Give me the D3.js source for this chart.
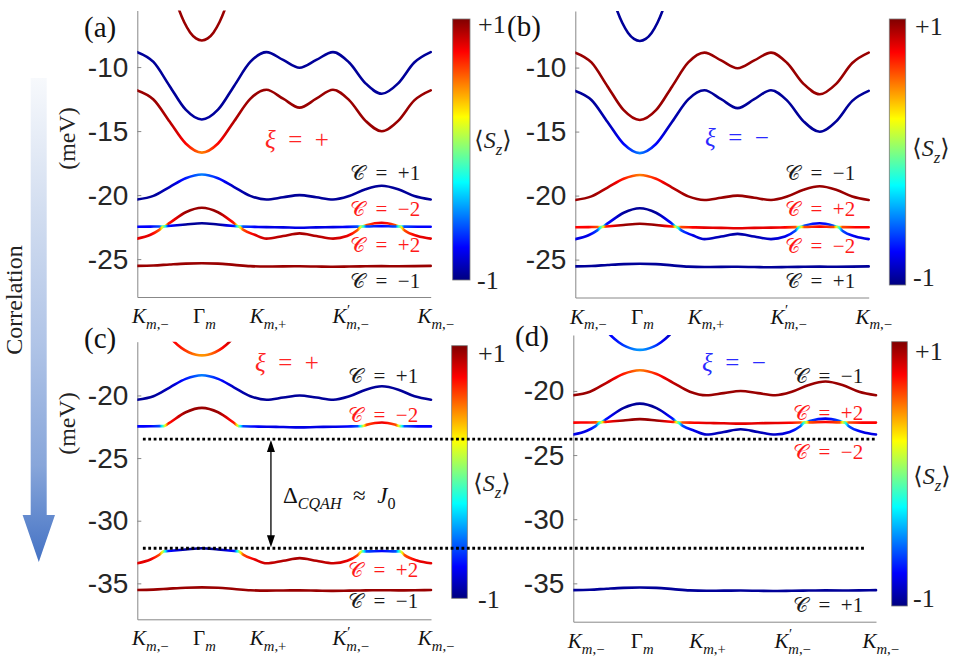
<!DOCTYPE html>
<html><head><meta charset="utf-8">
<script src="https://cdn.jsdelivr.net/npm/d3@7"></script>
<style>
html,body{margin:0;padding:0;background:#fff;}
svg{display:block;}
</style></head>
<body><svg id="fig" width="969" height="659"></svg>
<script>
// ================= DATA =================
// k-path sample positions (0 = K_{m,-}, 1 = K_{m,-} again)
const tMain = [0,0.055,0.11,0.165,0.22,0.275,0.33,0.385,0.44,0.497,0.553,0.61,0.667,0.722,0.778,0.833,0.889,0.944,1];
const tPar  = [0.12,0.14,0.16,0.18,0.20,0.22,0.24,0.26,0.28,0.30,0.32];
const tPar3 = [0.10,0.125,0.15,0.175,0.20,0.22,0.24,0.265,0.29,0.315,0.34];
const tPair = [0,0.045,0.075,0.09,0.105,0.165,0.22,0.275,0.33,0.345,0.36,0.40,0.44,0.497,0.553,0.61,0.667,0.715,0.75,0.765,0.78,0.833,0.88,0.895,0.91,0.955,1];

// energies (meV) and <S_z> for valley xi = +
const eTopPar = [-3.97,-5.39,-6.50,-7.29,-7.76,-7.92,-7.76,-7.29,-6.50,-5.39,-3.97];
const sTopPar = [0.95,0.95,0.95,0.95,0.95,0.95,0.95,0.95,0.95,0.95,0.95];

const eBand2 = [-8.83,-9.6,-11.47,-13.33,-14.1,-13.33,-11.47,-9.6,-8.83,-9.44,-10.05,-9.44,-8.83,-9.64,-11.27,-12.08,-11.27,-9.64,-8.83];
const sBand2 = [-0.95,-0.95,-0.95,-0.95,-0.93,-0.95,-0.95,-0.95,-0.95,-0.95,-0.95,-0.95,-0.95,-0.95,-0.95,-0.95,-0.95,-0.95,-0.95];

const eBand3 = [-11.82,-12.53,-14.25,-15.97,-16.68,-15.97,-14.23,-12.48,-11.77,-12.47,-13.17,-12.47,-11.77,-12.58,-14.2,-15.01,-14.2,-12.6,-11.82];
const sBand3 = [0.95,0.95,0.9,0.75,0.5,0.75,0.9,0.95,0.95,0.95,0.95,0.95,0.95,0.95,0.95,0.95,0.95,0.95,0.95];
// same band in the correlated panels (only its bottom is in view)
const eBand3Corr = [-15.04,-15.7,-16.2,-16.55,-16.75,-16.8,-16.75,-16.55,-16.2,-15.7,-15.04];
const sBand3Corr = [0.8,0.75,0.7,0.6,0.5,0.45,0.5,0.6,0.75,0.85,0.9];

const eBand4 = [-20.34,-20.06,-19.37,-18.68,-18.39,-18.68,-19.37,-20.06,-20.34,-20.17,-20.0,-20.17,-20.34,-20.07,-19.54,-19.27,-19.54,-20.07,-20.34];
const sBand4 = [-0.95,-0.95,-0.88,-0.7,-0.5,-0.7,-0.88,-0.95,-0.95,-0.95,-0.95,-0.95,-0.95,-0.95,-0.95,-0.95,-0.95,-0.95,-0.95];

const ePairUp  = [-22.47,-22.46,-22.45,-22.45,-22.25,-21.34,-20.99,-21.34,-22.2,-22.45,-22.46,-22.48,-22.5,-22.52,-22.55,-22.52,-22.5,-22.48,-22.46,-22.45,-22.35,-22.16,-22.35,-22.45,-22.46,-22.47,-22.47];
const sPairUp  = [-0.75,-0.75,-0.6,0,0.7,0.95,0.95,0.95,0.7,0,-0.6,-0.75,-0.8,-0.8,-0.8,-0.8,-0.8,-0.75,-0.6,0,0.6,0.8,0.6,0,-0.6,-0.75,-0.75];
const ePairLow = [-23.4,-23.1,-22.72,-22.45,-22.42,-22.3,-22.2,-22.3,-22.42,-22.45,-22.7,-23.1,-23.4,-23.2,-22.99,-23.2,-23.4,-23.2,-22.75,-22.45,-22.45,-22.42,-22.45,-22.45,-22.75,-23.2,-23.4];
const sPairLow = [0.8,0.8,0.6,0,-0.7,-0.95,-0.95,-0.95,-0.7,0,0.6,0.8,0.85,0.9,0.92,0.9,0.85,0.8,0.6,0,-0.6,-0.75,-0.6,0,0.6,0.8,0.8];
// lower C=+2 band after correlation shift (panel c)
const ePairLowCorr = [-33.4,-33.1,-32.72,-32.45,-32.42,-32.3,-32.2,-32.3,-32.42,-32.45,-32.7,-33.1,-33.4,-33.2,-32.99,-33.2,-33.4,-33.2,-32.75,-32.45,-32.45,-32.42,-32.45,-32.45,-32.75,-33.2,-33.4];

const eBand6 = [-25.53,-25.5,-25.42,-25.35,-25.32,-25.35,-25.45,-25.55,-25.58,-25.57,-25.56,-25.58,-25.6,-25.58,-25.56,-25.55,-25.56,-25.55,-25.53];
const eBand6Corr = [-35.53,-35.5,-35.42,-35.35,-35.32,-35.35,-35.45,-35.55,-35.58,-35.57,-35.56,-35.58,-35.6,-35.58,-35.56,-35.55,-35.56,-35.55,-35.53];
const sBand6 = [0.95,0.95,0.95,0.95,0.95,0.95,0.95,0.95,0.95,0.95,0.95,0.95,0.95,0.95,0.95,0.95,0.95,0.95,0.95];

// gap lines (meV) and valley index per panel
const gapLevels = [-23.48, -32.2];
const valleys = [1, -1, 1, -1];

// tick labels
const yTicksTop = [-25,-20,-15,-10];
const yTicksBot = [-35,-30,-25,-20];
const kMain = ["K","Γ","K","K","K"];
const kPrime = [false,false,false,true,false];
const kSub2 = [",−","",",+",",−",",−"];
const kLabelT = [-0.018,0.19,0.383,0.665,0.955];
const chernA = ["+1","−2","+2","−1"];
const chernB = ["−1","+2","−2","+1"];
const chernColors = ["#1a1a1a","#ff1a1a","#ff1a1a","#1a1a1a"];

// ================= HELPERS =================
function jet(v){
  const c = x=>Math.max(0,Math.min(1,x));
  const r=c(Math.min(4*v-1.5,-4*v+4.5)), g=c(Math.min(4*v-0.5,-4*v+3.5)), b=c(Math.min(4*v+0.5,-4*v+2.5));
  return d3.rgb(r*255,g*255,b*255).formatHex();
}
const sColor = s => jet((s+1)/2);
const SERIF = "'Liberation Serif','Times New Roman','DejaVu Serif',serif";
const SANS = "'Liberation Sans',Arial,sans-serif";
const SP = "\u2002";

function rich(textSel, parts, size){
  let cur = 0;
  parts.forEach(p=>{
    const target = p.sub ? size*0.28 : (p.sup ? -size*0.4 : 0);
    const ts = textSel.append("tspan").text(p.t)
      .attr("dy", target-cur)
      .style("font-family", p.ff || SERIF)
      .style("font-size", (p.sub||p.sup) ? (size*0.7)+"px" : size+"px")
      .style("font-style", p.it ? "italic" : "normal");
    if (p.dx) ts.attr("dx", p.dx);
    cur = target;
  });
}

const svg = d3.select("#fig");
const defs = svg.append("defs");

// colorbar gradient
const cbg = defs.append("linearGradient").attr("id","jetV").attr("x1",0).attr("y1",1).attr("x2",0).attr("y2",0);
d3.range(0,1.0001,0.025).forEach(v=>cbg.append("stop").attr("offset",v).attr("stop-color",jet(v)));

// ================= LAYOUT =================
const layout = [
  {x0:137.3,x1:430.7,yTop:10.5,yBot:297,dom:[-27.96,-5.58],ticks:yTicksTop,
   cb:[452.7,19,17.3,261],cbPlus:[478,33],cbMinus:[477,289],cbLabel:[493,148],
   letter:"(a)",letterPos:[84,37],xiPos:[265,148],cx:350,cBase:[180,216,252,288],chern:chernA,meV:[75,138.5],
   bands:[[tPar,eTopPar,sTopPar],[tMain,eBand2,sBand2],[tMain,eBand3,sBand3],[tMain,eBand4,sBand4],[tPair,ePairUp,sPairUp],[tPair,ePairLow,sPairLow],[tMain,eBand6,sBand6]]},
  {x0:575.3,x1:868.7,yTop:11,yBot:297.5,dom:[-27.96,-5.58],ticks:yTicksTop,
   cb:[889.3,19,16.4,266],cbPlus:[915,35],cbMinus:[913,286],cbLabel:[931,156],
   letter:"(b)",letterPos:[507,36],xiPos:[705,146],cx:785,cBase:[180,216,253,288],chern:chernB,meV:null,
   bands:[[tPar,eTopPar,sTopPar],[tMain,eBand2,sBand2],[tMain,eBand3,sBand3],[tMain,eBand4,sBand4],[tPair,ePairUp,sPairUp],[tPair,ePairLow,sPairLow],[tMain,eBand6,sBand6]]},
  {x0:137.3,x1:431,yTop:341.7,yBot:619.3,dom:[-37.87,-15.71],ticks:yTicksBot,
   cb:[451.7,345.7,15.6,252.6],cbPlus:[478,362],cbMinus:[478,608],cbLabel:[492,491],
   letter:"(c)",letterPos:[84,348],xiPos:[255,371],cx:348,cBase:[383,422,577,608],chern:chernA,meV:[75,423.5],
   bands:[[tPar3,eBand3Corr,sBand3Corr],[tMain,eBand4,sBand4],[tPair,ePairUp,sPairUp],[tPair,ePairLowCorr,sPairLow],[tMain,eBand6Corr,sBand6]]},
  {x0:573.3,x1:876,yTop:335,yBot:621.7,dom:[-37.99,-15.64],ticks:yTicksBot,
   cb:[891.7,341.7,15.6,264.3],cbPlus:[915,360],cbMinus:[913,607],cbLabel:[932,484],
   letter:"(d)",letterPos:[515,346],xiPos:[702,371],cx:793,cBase:[383,420,459,612],chern:chernB,meV:null,
   bands:[[tPar3,eBand3Corr,sBand3Corr],[tMain,eBand4,sBand4],[tPair,ePairUp,sPairUp],[tPair,ePairLow,sPairLow],[tMain,eBand6Corr,sBand6]]}
];

// ================= CORRELATION ARROW =================
const cg = defs.append("linearGradient").attr("id","corrGrad").attr("x1",0).attr("y1",0).attr("x2",0).attr("y2",1);
[[0,"#f7f9fc"],[0.3,"#cfdbef"],[0.55,"#b0c4e7"],[0.8,"#88a6da"],[1,"#4472c4"]].forEach(s=>cg.append("stop").attr("offset",s[0]).attr("stop-color",s[1]));
svg.append("path").attr("d","M30.7,78 H46.7 V515 H55 L38.8,562 L22.6,515 H30.7 Z").attr("fill","url(#corrGrad)");
svg.append("text").attr("transform","translate(22,300) rotate(-90)").attr("text-anchor","middle")
  .attr("font-family",SERIF).attr("font-size","24px").attr("fill","#222").text("Correlation");

// ================= PANELS =================
const scales = [];
layout.forEach((L,pi)=>{
  const xi = valleys[pi];
  const x = d3.scaleLinear().domain([0,1]).range([L.x0,L.x1]);
  const y = d3.scaleLinear().domain(L.dom).range([L.yBot,L.yTop]);
  scales.push({x,y});
  const g = svg.append("g");

  const clipId = "clip"+pi;
  defs.append("clipPath").attr("id",clipId).append("rect")
    .attr("x",L.x0).attr("y",L.yTop).attr("width",L.x1-L.x0+2).attr("height",L.yBot-L.yTop);

  // axes
  const ay = g.append("g").attr("transform",`translate(${L.x0},0)`)
    .call(d3.axisLeft(y).tickValues(L.ticks).tickSizeInner(-4).tickSizeOuter(0).tickPadding(9).tickFormat(d=>String(d)));
  ay.attr("font-family",SANS).attr("font-size",28);
  ay.select(".domain").attr("stroke","#888").attr("stroke-width",1);
  ay.selectAll(".tick line").attr("stroke","#888");
  ay.selectAll(".tick text").attr("fill","#262626");
  const ax = g.append("g").attr("transform",`translate(0,${L.yBot})`)
    .call(d3.axisBottom(x).tickValues([]).tickSizeOuter(0));
  ax.select(".domain").attr("stroke","#888").attr("stroke-width",1);

  // k labels
  kMain.forEach((m,i)=>{
    const t = g.append("text").attr("x",x(kLabelT[i])).attr("y",L.yBot+26).attr("fill","#111");
    const parts = [{t:m,it:m!=="Γ"}];
    if (kPrime[i]) parts.push({t:"′",sup:true,dx:0.5});
    parts.push({t:"m",sub:true,it:true,dx:kPrime[i]?-4:0});
    if (kSub2[i]) parts.push({t:kSub2[i],sub:true});
    rich(t,parts,21);
  });

  // bands
  const bandG = g.append("g").attr("clip-path",`url(#${clipId})`);
  const line = d3.line().x(d=>x(d.t)).y(d=>y(d.e)).curve(d3.curveMonotoneX);
  L.bands.forEach((b,bi)=>{
    const [ts,es,ss] = b;
    const pts = ts.map((t,i)=>({t,e:es[i],s:ss[i]*xi}));
    const gid = `bg${pi}_${bi}`;
    const lg = defs.append("linearGradient").attr("id",gid).attr("gradientUnits","userSpaceOnUse")
      .attr("x1",x(0)).attr("x2",x(1)).attr("y1",0).attr("y2",0);
    for (let i=0;i<pts.length-1;i++){
      const a=pts[i], c=pts[i+1];
      for (let k=0;k<6;k++){
        const f=k/6;
        lg.append("stop").attr("offset",a.t+(c.t-a.t)*f).attr("stop-color",sColor(a.s+(c.s-a.s)*f));
      }
    }
    const last = pts[pts.length-1];
    lg.append("stop").attr("offset",last.t).attr("stop-color",sColor(last.s));
    bandG.append("path").datum(pts).attr("d",line).attr("fill","none")
      .attr("stroke",`url(#${gid})`).attr("stroke-width",2.6).attr("stroke-linecap","round");
  });

  // colorbar
  const [cbx,cby,cbw,cbh] = L.cb;
  g.append("rect").attr("x",cbx).attr("y",cby).attr("width",cbw).attr("height",cbh)
    .attr("fill","url(#jetV)").attr("stroke","#7a7a7a").attr("stroke-width",0.8);
  g.append("text").attr("x",L.cbPlus[0]).attr("y",L.cbPlus[1]).attr("font-family",SERIF).attr("font-size","26px").attr("fill","#222").text("+1");
  g.append("text").attr("x",L.cbMinus[0]).attr("y",L.cbMinus[1]).attr("font-family",SERIF).attr("font-size","26px").attr("fill","#222").text("-1");
  const sz = g.append("text").attr("x",L.cbLabel[0]).attr("y",L.cbLabel[1]).attr("text-anchor","middle").attr("fill","#222");
  rich(sz,[{t:"⟨"},{t:"S",it:true},{t:"z",it:true,sub:true},{t:"⟩"}],24);

  // panel letter
  g.append("text").attr("x",L.letterPos[0]).attr("y",L.letterPos[1]).attr("font-family",SERIF)
    .attr("font-size","29px").attr("fill","#111").text(L.letter);

  // valley label
  const xt = g.append("text").attr("x",L.xiPos[0]).attr("y",L.xiPos[1]).attr("fill", xi>0 ? "#ff2424" : "#2a2aff");
  rich(xt,[{t:"ξ",it:true},{t:SP+"="+SP},{t: xi>0 ? "+" : "−"}],25);

  // Chern labels
  L.chern.forEach((c,i)=>{
    const ct = g.append("text").attr("x",L.cx).attr("y",L.cBase[i]).attr("fill",chernColors[i]);
    rich(ct,[{t:"𝒞"},{t:SP+"="+SP+c}],21);
  });

  // y label
  if (L.meV){
    g.append("text").attr("transform",`translate(${L.meV[0]},${L.meV[1]}) rotate(-90)`).attr("text-anchor","middle")
      .attr("font-family",SERIF).attr("font-size","24px").attr("fill","#222").text("(meV)");
  }
});

// ================= GAP LINES & ARROW (panel c -> d) =================
const sc = scales[2], sd = scales[3];
const gapEnds = [1.0, 0.964];
gapLevels.forEach((E,i)=>{
  svg.append("line").attr("x1",sc.x(0.019)).attr("x2",sd.x(gapEnds[i]))
    .attr("y1",sc.y(E)).attr("y2",sc.y(E))
    .attr("stroke","#000").attr("stroke-width",2.8).attr("stroke-dasharray","2.8,2.6");
});
const ax_ = sc.x(0.455), yA = sc.y(gapLevels[0]), yB = sc.y(gapLevels[1]);
svg.append("line").attr("x1",ax_).attr("x2",ax_).attr("y1",yA+8).attr("y2",yB-8).attr("stroke","#000").attr("stroke-width",1.3);
svg.append("path").attr("d",`M${ax_},${yA+1} L${ax_-4},${yA+13} L${ax_+4},${yA+13} Z`).attr("fill","#000");
svg.append("path").attr("d",`M${ax_},${yB-1} L${ax_-4},${yB-13} L${ax_+4},${yB-13} Z`).attr("fill","#000");
const dt = svg.append("text").attr("x",sc.x(0.496)).attr("y",sc.y(-28.59)).attr("fill","#111");
rich(dt,[{t:"Δ"},{t:"CQAH",it:true,sub:true},{t:SP+"≈"+SP},{t:"J",it:true},{t:"0",sub:true}],23);
</script>
</body></html>
